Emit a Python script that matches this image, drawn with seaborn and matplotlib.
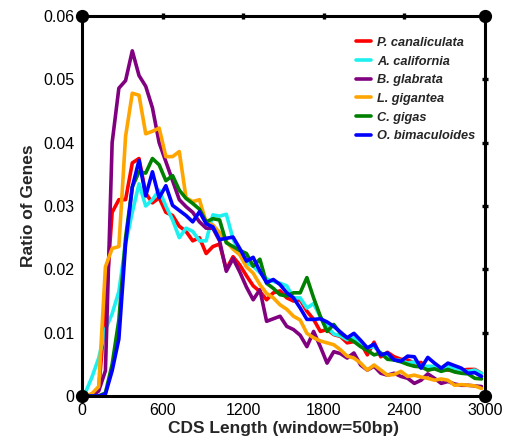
import numpy as np
import pandas as pd
import matplotlib
matplotlib.use("Agg")
import matplotlib.pyplot as plt
import seaborn as sns

species = ["P. canaliculata", "A. california", "B. glabrata",
           "L. gigantea", "C. gigas", "O. bimaculoides"]
colors = ["#ff0000", "#1ef0f0", "#800080", "#ffa500", "#008000", "#0000ff"]

cds_length = list(range(25, 3000, 50))

p_canaliculata = [0, 0, 0.001, 0.014, 0.029, 0.031, 0.031, 0.0368, 0.0375, 0.032,
                  0.0305, 0.0313, 0.029, 0.0285, 0.0268, 0.026, 0.0245, 0.025, 0.0225, 0.0236,
                  0.024, 0.020, 0.022, 0.0207, 0.019, 0.0174, 0.0165, 0.0152, 0.0163, 0.0166,
                  0.0155, 0.015, 0.0152, 0.0134, 0.0121, 0.0102, 0.0105, 0.0097, 0.0094, 0.0084,
                  0.0086, 0.0084, 0.0065, 0.0085, 0.0062, 0.0069, 0.0062, 0.0058, 0.0057, 0.0052,
                  0.0053, 0.0041, 0.0044, 0.0043, 0.0041, 0.004, 0.0041, 0.0042, 0.0042, 0.0036]
a_california = [0.0005, 0.003, 0.006, 0.0105, 0.013, 0.0165, 0.024, 0.029, 0.0335, 0.030,
                0.031, 0.0325, 0.030, 0.0278, 0.025, 0.0265, 0.026, 0.0245, 0.0245, 0.0286,
                0.0284, 0.0287, 0.0248, 0.0225, 0.021, 0.0205, 0.0195, 0.0185, 0.0181, 0.0178,
                0.0174, 0.0155, 0.0155, 0.0139, 0.0146, 0.0125, 0.011, 0.0098, 0.0095, 0.0089,
                0.0092, 0.0084, 0.0076, 0.0078, 0.0068, 0.0062, 0.0057, 0.0056, 0.0052, 0.0054,
                0.0047, 0.0047, 0.0047, 0.0041, 0.0047, 0.0044, 0.0041, 0.0039, 0.0041, 0.0036]
b_glabrata = [0, 0, 0.0008, 0.004, 0.040, 0.0486, 0.0498, 0.0545, 0.0506, 0.0489,
              0.0455, 0.040, 0.037, 0.034, 0.031, 0.0299, 0.029, 0.0275, 0.0265, 0.0265,
              0.0245, 0.0197, 0.0217, 0.0196, 0.0172, 0.0152, 0.0168, 0.0118, 0.0122, 0.0126,
              0.011, 0.0105, 0.0096, 0.0078, 0.0102, 0.0078, 0.0052, 0.007, 0.0067, 0.006,
              0.0068, 0.0049, 0.0041, 0.0047, 0.0036, 0.0033, 0.0036, 0.0031, 0.0028, 0.002,
              0.0025, 0.0035, 0.0028, 0.002, 0.0023, 0.0019, 0.0017, 0.0017, 0.0016, 0.0015]
l_gigantea = [0, 0.0004, 0.0015, 0.0204, 0.0233, 0.0236, 0.041, 0.0478, 0.0475, 0.0414,
              0.0418, 0.0423, 0.0378, 0.0378, 0.0386, 0.0313, 0.0307, 0.031, 0.0274, 0.027,
              0.0258, 0.0244, 0.0232, 0.0223, 0.0204, 0.0194, 0.0176, 0.0162, 0.0155, 0.0144,
              0.0137, 0.0126, 0.012, 0.0099, 0.0092, 0.0087, 0.0084, 0.0081, 0.0073, 0.0063,
              0.006, 0.0052, 0.0041, 0.0049, 0.0041, 0.0033, 0.0034, 0.0039, 0.0031, 0.0033,
              0.003, 0.0028, 0.0025, 0.0027, 0.0025, 0.0017, 0.0018, 0.0017, 0.0016, 0.0012]
c_gigas = [0, 0, 0, 0.0005, 0.005, 0.012, 0.025, 0.033, 0.0354, 0.0352,
           0.0375, 0.0365, 0.034, 0.0348, 0.0325, 0.0312, 0.0304, 0.0295, 0.0275, 0.028,
           0.0278, 0.0242, 0.0236, 0.023, 0.0225, 0.0205, 0.0216, 0.0178, 0.017, 0.016,
           0.0158, 0.0163, 0.0163, 0.0187, 0.0155, 0.0126, 0.0102, 0.0113, 0.0099, 0.0092,
           0.0086, 0.0078, 0.0072, 0.0065, 0.0068, 0.0058, 0.0057, 0.0054, 0.005, 0.0047,
           0.0046, 0.0041, 0.0043, 0.0039, 0.0042, 0.0038, 0.0036, 0.0035, 0.0028, 0.0027]
o_bimaculoides = [0, 0, 0, 0.0003, 0.004, 0.009, 0.024, 0.033, 0.0372, 0.0316,
                  0.0354, 0.0313, 0.0332, 0.0301, 0.0293, 0.0285, 0.0275, 0.0291, 0.0272, 0.0267,
                  0.0247, 0.0249, 0.0251, 0.0233, 0.0213, 0.0219, 0.0197, 0.0179, 0.0184, 0.0176,
                  0.0163, 0.0155, 0.0139, 0.0121, 0.0121, 0.0122, 0.0117, 0.011, 0.0101, 0.0092,
                  0.0099, 0.0088, 0.0076, 0.0082, 0.0065, 0.0068, 0.0057, 0.0055, 0.0063, 0.0062,
                  0.0044, 0.0061, 0.0052, 0.0044, 0.0052, 0.0048, 0.0044, 0.0036, 0.0037, 0.0031]

x_ticks = [0, 600, 1200, 1800, 2400, 3000]
y_ticks = [0, 0.01, 0.02, 0.03, 0.04, 0.05, 0.06]
y_tick_labels = ["0", "0.01", "0.02", "0.03", "0.04", "0.05", "0.06"]

series = [p_canaliculata, a_california, b_glabrata, l_gigantea, c_gigas, o_bimaculoides]
df = pd.concat([pd.DataFrame({"length": cds_length, "ratio": vals, "species": name})
                for name, vals in zip(species, series)], ignore_index=True)

sns.set_style("white")
plt.rcParams["font.family"] = ["Liberation Sans", "DejaVu Sans"]

fig = plt.figure(figsize=(5.12, 4.44), dpi=100)
ax = fig.add_axes([0.160, 0.108, 0.787, 0.856])

sns.lineplot(data=df, x="length", y="ratio", hue="species", hue_order=species,
             palette=colors, linewidth=2.6, ax=ax, legend=True, estimator=None, sort=False)

ax.set_xlim(0, 3000)
ax.set_ylim(0, 0.06)
ax.set_xticks(x_ticks)
ax.set_xticklabels([str(t) for t in x_ticks])
ax.set_yticks(y_ticks)
ax.set_yticklabels(y_tick_labels)

for s in ax.spines.values():
    s.set_visible(True)
    s.set_color("black")
    s.set_linewidth(2.2)

ax.tick_params(axis="both", which="both", direction="inout", length=4.5, width=2.4,
               colors="black", labelsize=11.5, top=True, right=True,
               labeltop=False, labelright=False, pad=3)

ax.set_xlabel("CDS Length (window=50bp)", fontsize=12.5, fontweight="bold", labelpad=2)
ax.set_ylabel("Ratio of Genes", fontsize=12.5, fontweight="bold", labelpad=5)

# corner dots
ax.plot([0, 1, 0, 1], [0, 0, 1, 1], "o", color="black", markersize=8.5,
        transform=ax.transAxes, clip_on=False, zorder=10)

handles, labels = ax.get_legend_handles_labels()
leg = ax.legend(handles, labels, loc="upper right", bbox_to_anchor=(0.995, 0.965),
                frameon=False, fontsize=9.2, handlelength=1.15, handletextpad=0.45,
                labelspacing=0.52, borderaxespad=0.2)
for t in leg.get_texts():
    t.set_fontstyle("italic")
    t.set_fontweight("bold")
for h in leg.get_lines():
    h.set_linewidth(2.6)

fig.savefig("out.png", dpi=100)
